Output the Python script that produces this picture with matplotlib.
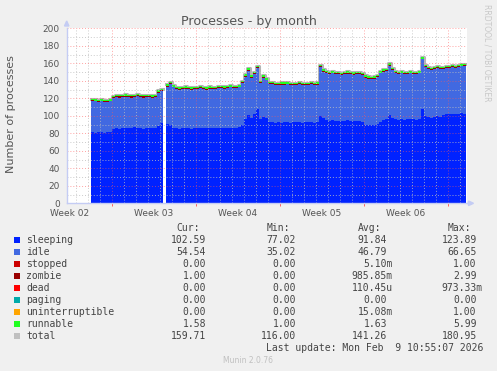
import numpy as np
import matplotlib
matplotlib.use('Agg')
import matplotlib.pyplot as plt
import matplotlib.transforms as mtransforms
from matplotlib.patches import Polygon, Rectangle

W, H = 497, 371
nan = np.nan

# one sample every 6 hours, time in days from the start of week 03
t_start = -1.75
step = 0.25

sleeping = [
    81, 80.5, 81, 81.5, 80.5, 81, 81, 85, 85.5, 85,
    86, 85.5, 86, 86.5, 87, 86.5, 85.5, 85, 85.5, 86,
    85.5, 85.8, 88, 92, nan, 90.5, 89, 86, 85.5, 85,
    85.5, 86, 85.5, 85, 85.5, 86, 85.5, 86, 85.5, 86,
    85.5, 86, 85.5, 86, 85.5, 86, 86.5, 86, 86.5, 87,
    90, 96, 101, 98, 102, 108, 96, 99, 97, 93,
    92.5, 92, 92.5, 92, 92.5, 93, 92, 92.5, 93, 92.5,
    92, 92.5, 93, 92.5, 92, 93, 99.6, 97, 95, 94.5,
    95, 94.5, 94.5, 94, 94.5, 95, 94.5, 94, 94.5, 94.5,
    93, 90, 89.5, 89.5, 90, 91, 93, 95, 96, 101,
    98, 96, 95.5, 96, 95.5, 96, 96.5, 96, 95.5, 96,
    108, 100, 99, 98, 99, 100, 99, 101, 101.5, 102,
    101.5, 102, 102, 103, 102.6]

idle = [
    35.9, 35.9, 34.9, 34.9, 34.9, 34.4, 35.4, 35.4, 35.9, 35.9,
    35.4, 36.4, 35.4, 34.4, 34.4, 35.9, 35.9, 35.9, 35.9, 35.4,
    35.4, 35.6, 38.4, 36.4, nan, 42.9, 47.4, 46.4, 44.9, 44.9,
    44.9, 44.9, 44.9, 44.9, 44.9, 44.4, 45.9, 44.4, 44.4, 44.9,
    44.9, 44.4, 45.9, 45.4, 45.4, 45.4, 45.9, 45.4, 44.9, 45.4,
    47.4, 48.4, 50.4, 45.4, 45.4, 46.4, 41.4, 44.4, 43.4, 43.4,
    43.4, 43.4, 42.4, 43.4, 42.9, 42.9, 42.9, 42.9, 42.4, 43.4,
    43.4, 42.4, 42.4, 43.4, 43.4, 42.4, 55.8, 53.4, 53.4, 52.9,
    53.4, 52.9, 52.9, 52.9, 52.9, 52.9, 52.9, 52.9, 52.9, 52.9,
    53.4, 53.4, 52.9, 52.4, 52.4, 53.4, 55.4, 55.4, 55.4, 56.4,
    54.4, 52.4, 51.9, 52.4, 51.9, 51.4, 51.9, 51.4, 51.9, 52.4,
    56.4, 55.4, 54.4, 54.4, 54.4, 54.4, 54.4, 52.4, 52.9, 52.4,
    53.9, 52.4, 53.4, 53.4, 54.5]

zombie = [
    1, 1, 1.2, 1, 1, 1, 0.8, 1, 1, 1.2,
    1, 1, 1, 1.3, 1, 1, 1, 1.2, 1, 1,
    1, 1, 1, 1, nan, 1, 1, 1, 1.2, 1,
    1, 1, 1.2, 1, 1, 1, 1, 1.3, 1, 1,
    1, 1, 1, 1, 1.2, 1, 1, 1, 1, 1,
    1, 1, 1, 1, 1, 1, 1.2, 1, 1, 1,
    1.2, 1, 1, 1, 1.3, 1, 1, 1, 1, 1.2,
    1, 1, 1, 1.2, 1, 1, 1, 1, 1.2, 1,
    1, 1, 1, 1, 1, 1.2, 1, 1, 1, 1,
    1, 1.2, 1, 1, 1, 1, 1, 1, 1, 1,
    1, 1.2, 1, 1, 1, 1.2, 1, 1, 1, 1,
    1, 1, 1, 1.2, 1, 1, 1, 1, 1.2, 1,
    1, 1, 1, 1, 1]

runnable = [
    1.6, 1.7, 1.5, 1.6, 1.8, 1.6, 1.5, 1.7, 1.6, 1.6,
    1.5, 1.7, 1.6, 1.6, 1.8, 1.6, 1.6, 1.5, 1.6, 1.7,
    1.6, 1.6, 1.8, 1.7, nan, 1.9, 1.7, 1.6, 1.6, 1.5,
    1.6, 1.7, 1.6, 1.6, 1.5, 1.6, 1.7, 1.6, 1.6, 1.6,
    1.7, 1.6, 1.5, 1.6, 1.6, 1.7, 1.6, 1.6, 1.5, 1.6,
    1.8, 1.9, 1.8, 1.7, 1.7, 1.8, 1.6, 1.7, 1.6, 1.6,
    1.6, 1.5, 1.6, 1.7, 1.6, 1.6, 1.5, 1.6, 1.6, 1.7,
    1.6, 1.6, 1.5, 1.6, 1.6, 1.7, 1.9, 1.7, 1.6, 1.6,
    1.7, 1.6, 1.6, 1.5, 1.6, 1.6, 1.7, 1.6, 1.6, 1.6,
    1.6, 1.5, 1.6, 1.6, 1.7, 1.6, 1.7, 1.7, 1.6, 1.8,
    1.7, 1.6, 1.6, 1.7, 1.6, 1.6, 1.5, 1.6, 1.6, 1.7,
    1.9, 1.7, 1.6, 1.6, 1.7, 1.6, 1.6, 1.6, 1.5, 1.6,
    1.6, 1.7, 1.6, 1.6, 1.58]

week_labels = ['Week 02', 'Week 03', 'Week 04', 'Week 05', 'Week 06']
week_starts = [-7, 0, 7, 14, 21, 28]

names = ['sleeping', 'idle', 'stopped', 'zombie', 'dead', 'paging',
         'uninterruptible', 'runnable', 'total']
colors = ['#0022ff', '#4169e1', '#cc0000', '#990000', '#ff0000', '#00aaaa',
          '#ffa500', '#22ff22', '#c0c0c0']
cur_vals = ['102.59', '54.54', '0.00', '1.00', '0.00', '0.00', '0.00', '1.58', '159.71']
min_vals = ['77.02', '35.02', '0.00', '0.00', '0.00', '0.00', '0.00', '1.00', '116.00']
avg_vals = ['91.84', '46.79', '5.10m', '985.85m', '110.45u', '0.00', '15.08m', '1.63', '141.26']
max_vals = ['123.89', '66.65', '1.00', '2.99', '973.33m', '0.00', '1.00', '5.99', '180.95']


def fx(px):
    return px / W


def fy(py):
    return 1 - py / H


def steps(v):
    # per-sample values -> post-step outline
    return np.repeat(np.asarray(v, dtype=float), 2)


n = len(sleeping)
edges = t_start + step * np.arange(n + 1)
xs = np.repeat(edges, 2)[1:-1]

fig = plt.figure(figsize=(W / 100, H / 100), dpi=100, facecolor='#f0f0f0')
ax = fig.add_axes([fx(66.7), fy(203.3), 400 / W, 175 / H])
ax.set_facecolor('white')

layer_vals = [sleeping, idle, zombie, runnable]
layer_cols = [colors[0], colors[1], colors[3], colors[7]]
bottom = np.zeros(2 * n)
for vals, col in zip(layer_vals, layer_cols):
    top = bottom + steps(vals)
    ax.fill_between(xs, bottom, top, color=col, lw=0, zorder=1)
    bottom = top
# total line sits under the stack, so only its upper half shows as a grey rim
ax.plot(xs, bottom, color='#b4b4b4', lw=2.2, zorder=0.8)

ax.set_xlim(-3.775, 29.56)
ax.set_ylim(0, 200)

# grid: grey every day / 10, red every week / 20
major_c = (1.0, 0.35, 0.35, 0.55)
minor_c = (0.75, 0.75, 0.75, 0.8)
for d in range(-3, 30):
    ax.axvline(d, color=major_c if d in week_starts else minor_c, lw=0.7,
               ls=(0, (1, 2)), zorder=2)
for v in range(10, 201, 10):
    ax.axhline(v, color=major_c if v % 20 == 0 else minor_c, lw=0.7,
               ls=(0, (1, 2)), zorder=2)

ax.set_yticks(range(0, 201, 20))
ax.set_xticks([w for w in week_starts if w > -3.775])
ax.set_xticklabels([])
ax.tick_params(axis='y', length=0, pad=5, labelsize=6.5, labelcolor='#555555')
ax.tick_params(axis='x', length=2.5, width=0.7, color='#ff6060', direction='out')
xfig = mtransforms.blended_transform_factory(ax.transData, fig.transFigure)
for lbl, w in zip(week_labels, week_starts):
    ax.text(w + 3.5, fy(216), lbl, transform=xfig, ha='center', va='baseline',
            fontsize=6.5, color='#555555')

for s in ['top', 'right']:
    ax.spines[s].set_visible(False)
for s in ['left', 'bottom']:
    ax.spines[s].set_color('#c4ccf4')
    ax.spines[s].set_linewidth(1)

# axis arrows
axis_col = '#c4ccf4'
fig.patches.append(Polygon([[fx(64.5), fy(26)], [fx(68.9), fy(26)], [fx(66.7), fy(21)]],
                           closed=True, color=axis_col, transform=fig.transFigure))
fig.add_artist(plt.Line2D([fx(466.7), fx(469)], [fy(203.3), fy(203.3)], color=axis_col, lw=1))
fig.patches.append(Polygon([[fx(468.5), fy(201)], [fx(468.5), fy(205.6)], [fx(473.5), fy(203.3)]],
                           closed=True, color=axis_col, transform=fig.transFigure))

fig.text(fx(248.5), fy(24.5), 'Processes - by month', ha='center', va='baseline',
         fontsize=9.1, color='#555555')
fig.text(fx(10.7), fy(114), 'Number of processes', rotation=90, ha='center', va='center',
         fontsize=8, color='#555555')
fig.text(fx(487.5), fy(53), 'RRDTOOL / TOBI OETIKER', rotation=270, ha='center', va='center',
         fontsize=5.5, color='#c8c8c8')

# legend table
mono = 'DejaVu Sans Mono'
cw = 5.9
col_ends = [206, 296, 387, 476.7]
headers = ['Cur:', 'Min:', 'Avg:', 'Max:']
txt_col = '#444444'
for hd, e in zip(headers, col_ends):
    fig.text(fx(e - cw), fy(230.7), hd, ha='right', va='baseline', family=mono,
             fontsize=7, color=txt_col)
for k, name in enumerate(names):
    base = 242.7 + 12 * k
    fig.patches.append(Rectangle((fx(14), fy(base)), 6 / W, 6 / H, color=colors[k],
                                 transform=fig.transFigure, lw=0))
    fig.text(fx(26.3), fy(base), name, ha='left', va='baseline', family=mono,
             fontsize=7, color=txt_col)
    for vals, e in zip([cur_vals, min_vals, avg_vals, max_vals], col_ends):
        v = vals[k]
        x = e + cw if v[-1].isalpha() else e
        fig.text(fx(x), fy(base), v, ha='right', va='baseline', family=mono,
                 fontsize=7, color=txt_col)

fig.text(fx(483), fy(350.7), 'Last update: Mon Feb  9 10:55:07 2026', ha='right',
         va='baseline', family=mono, fontsize=7, color=txt_col)
fig.text(fx(248), fy(362.7), 'Munin 2.0.76', ha='center', va='baseline',
         fontsize=5.5, color='#c0c0c0')

fig.savefig('out.png', dpi=100, facecolor=fig.get_facecolor())
